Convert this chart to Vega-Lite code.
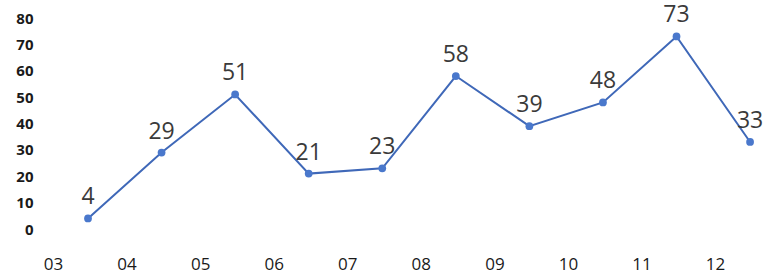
{
  "$schema": "https://vega.github.io/schema/vega-lite/v6.json",
  "width": 722,
  "height": 211,
  "autosize": {"type": "none"},
  "padding": {"left": 45, "top": 18, "right": 0, "bottom": 48},
  "background": "white",
  "config": {"view": {"stroke": null}, "font": "Open Sans"},
  "data": {
    "values": [
      {"month": 3, "value": 4},
      {"month": 4, "value": 29},
      {"month": 5, "value": 51},
      {"month": 6, "value": 21},
      {"month": 7, "value": 23},
      {"month": 8, "value": 58},
      {"month": 9, "value": 39},
      {"month": 10, "value": 48},
      {"month": 11, "value": 73},
      {"month": 12, "value": 33}
    ]
  },
  "encoding": {
    "x": {
      "field": "month",
      "type": "quantitative",
      "scale": {"domain": [2.4155, 12.23], "nice": false, "zero": false},
      "axis": {
        "title": null,
        "values": [3, 4, 5, 6, 7, 8, 9, 10, 11, 12],
        "labelExpr": "datum.value < 10 ? '0' + datum.value : '' + datum.value",
        "grid": false,
        "domain": false,
        "ticks": false,
        "labelOffset": -35,
        "labelPadding": 27,
        "labelFontSize": 17,
        "labelColor": "#1a1a1a",
        "labelFlush": false,
        "labelOverlap": false
      }
    },
    "y": {
      "field": "value",
      "type": "quantitative",
      "scale": {"domain": [0, 80], "nice": false},
      "axis": {
        "title": null,
        "values": [0, 10, 20, 30, 40, 50, 60, 70, 80],
        "grid": false,
        "domain": false,
        "ticks": false,
        "labelPadding": 12,
        "labelFontSize": 15,
        "labelFontWeight": "bold",
        "labelColor": "#1a1a1a"
      }
    }
  },
  "layer": [
    {
      "mark": {"type": "line", "color": "#3f68b8", "strokeWidth": 2, "point": {"filled": true, "size": 60, "color": "#4a78cc"}}
    },
    {
      "mark": {"type": "text", "fontSize": 23, "color": "#3a3a3a", "dy": -21, "baseline": "middle"},
      "encoding": {"text": {"field": "value", "type": "quantitative"}}
    }
  ]
}
